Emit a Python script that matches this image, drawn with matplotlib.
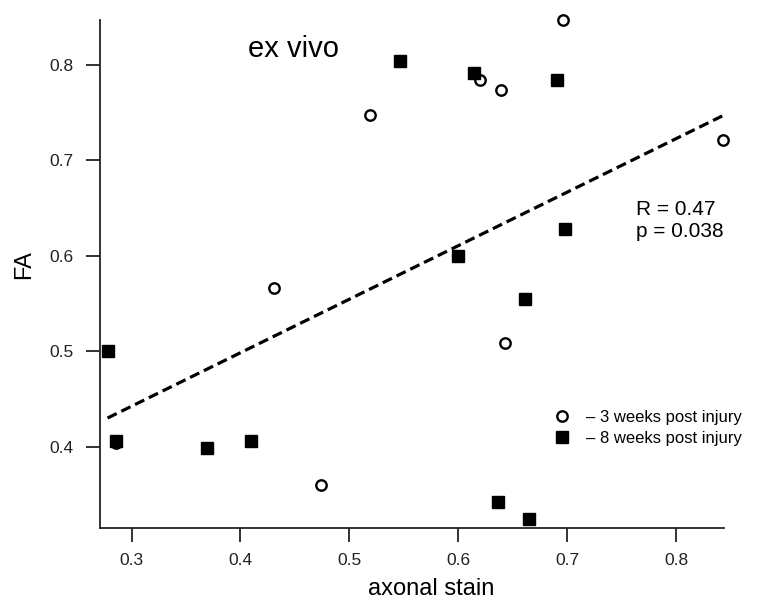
import matplotlib.pyplot as plt

plt.rcParams['font.family'] = ['Liberation Sans', 'DejaVu Sans']

# 3 weeks post injury (open circles)
wk3_x = [0.519, 0.431, 0.474, 0.286, 0.620, 0.639, 0.696, 0.843, 0.643]
wk3_y = [0.748, 0.566, 0.360, 0.404, 0.784, 0.774, 0.847, 0.721, 0.509]

# 8 weeks post injury (filled squares)
wk8_x = [0.278, 0.286, 0.369, 0.410, 0.546, 0.614, 0.690, 0.698, 0.600, 0.661, 0.636, 0.665]
wk8_y = [0.500, 0.406, 0.399, 0.406, 0.804, 0.792, 0.784, 0.628, 0.600, 0.555, 0.342, 0.324]

# fitted line end points
fit_x = [0.278, 0.843]
fit_y = [0.430, 0.747]

xticks = [0.3, 0.4, 0.5, 0.6, 0.7, 0.8]
yticks = [0.4, 0.5, 0.6, 0.7, 0.8]

fig = plt.figure(figsize=(7.59, 6.10), dpi=100)
ax = fig.add_axes([0.1312, 0.1344, 0.8227, 0.8328])

ax.plot(fit_x, fit_y, color='black', lw=2.3, dashes=(3.2, 1.6), zorder=2)
ax.plot(wk3_x, wk3_y, 'o', ms=7.5, mfc='white', mec='black', mew=1.7, ls='none',
        zorder=3, clip_on=False, label='\u2013 3 weeks post injury')
ax.plot(wk8_x, wk8_y, 's', ms=8.5, mfc='black', mec='black', mew=1, ls='none',
        zorder=4, clip_on=False, label='\u2013 8 weeks post injury')

ax.set_xlim(0.2707, 0.8437)
ax.set_ylim(0.3148, 0.847)
ax.set_xticks(xticks)
ax.set_yticks(yticks)
ax.set_xticklabels([f'{v:.1f}' for v in xticks])
ax.set_yticklabels([f'{v:.1f}' for v in yticks])

for s in ['top', 'right']:
    ax.spines[s].set_visible(False)
for s in ['left', 'bottom']:
    ax.spines[s].set_linewidth(1.3)
    ax.spines[s].set_color('#222222')
ax.tick_params(axis='both', direction='out', length=10, width=1.3,
               colors='#222222', labelsize=12.5)
ax.tick_params(axis='y', pad=9)
ax.tick_params(axis='x', pad=8)

ax.text(0.3105, 0.9266, 'ex vivo', transform=ax.transAxes, fontsize=21,
        ha='center', va='baseline')
ax.text(0.859, 0.645, 'R = 0.47\np = 0.038', transform=ax.transAxes,
        fontsize=15, ha='left', va='top', linespacing=1.2)

ax.legend(loc='center left', bbox_to_anchor=(0.728, 0.197), frameon=False,
          fontsize=12, handlelength=1.0, handletextpad=0.9, borderpad=0,
          labelspacing=0.4, borderaxespad=0)

fig.text(431.5 / 759, 1 - 595 / 610, 'axonal stain', fontsize=17,
         ha='center', va='baseline')
fig.text(24 / 759, 1 - 264.5 / 610, 'FA', fontsize=17, rotation=90,
         ha='center', va='center')

fig.savefig('out.png', dpi=100)
